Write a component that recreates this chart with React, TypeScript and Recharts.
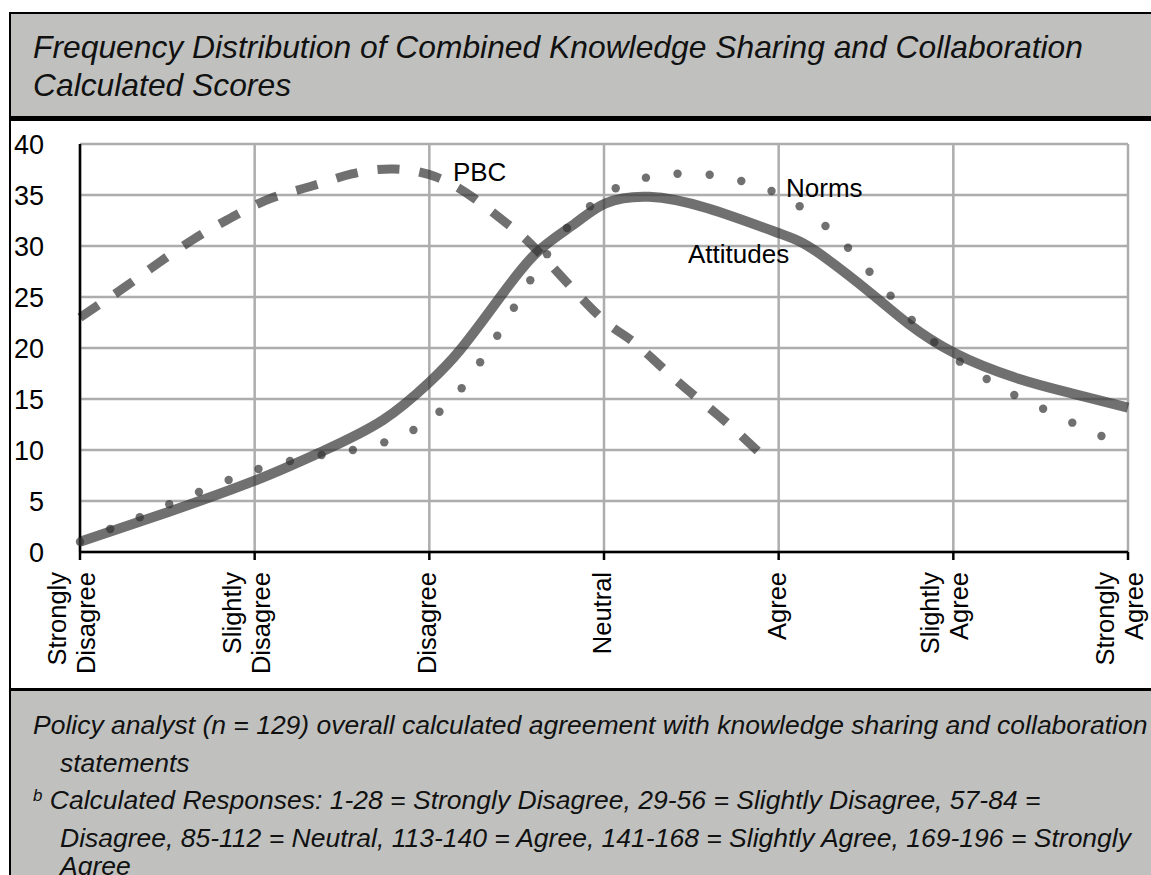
import React from 'react';
import { LineChart, Line, XAxis, YAxis, CartesianGrid, ReferenceDot } from 'recharts';

// response categories along the x axis (positions 0..6)
const CATEGORIES = [
  'Strongly Disagree',
  'Slightly Disagree',
  'Disagree',
  'Neutral',
  'Agree',
  'Slightly Agree',
  'Strongly Agree',
];
const CATEGORY_TICKS = [0, 1, 2, 3, 4, 5, 6];
const Y_TICKS = [0, 5, 10, 15, 20, 25, 30, 35, 40];

// Attitudes (solid curve)
const ATTITUDES_X = [0, 0.51, 1.01, 1.383, 1.735, 2.004, 2.176, 2.393, 2.61, 2.834, 3.009, 3.258, 3.593, 4.002, 4.218, 4.529, 4.739, 5.009, 5.365, 5.677, 6];
const ATTITUDES_Y = [1.0, 3.95, 7.06, 9.83, 12.94, 16.7, 19.8, 24.7, 29.28, 32.2, 34.19, 34.83, 33.7, 31.25, 29.44, 25.36, 22.42, 19.48, 17.03, 15.56, 14.15];

// Norms (dotted curve)
const NORMS_X = [0, 0.173, 0.342, 0.511, 0.681, 0.851, 1.022, 1.202, 1.383, 1.562, 1.742, 1.909, 2.058, 2.185, 2.291, 2.389, 2.484, 2.578, 2.674, 2.788, 2.92, 3.067, 3.24, 3.421, 3.605, 3.786, 3.959, 4.12, 4.268, 4.397, 4.52, 4.641, 4.762, 4.891, 5.037, 5.191, 5.349, 5.514, 5.681, 5.848];
const NORMS_Y = [1.0, 2.25, 3.4, 4.68, 5.88, 7.06, 8.14, 8.92, 9.51, 10.0, 10.75, 11.96, 13.75, 16.05, 18.6, 21.2, 23.95, 26.64, 29.2, 31.76, 33.9, 35.66, 36.7, 37.09, 36.99, 36.37, 35.39, 33.89, 31.96, 29.83, 27.48, 25.13, 22.75, 20.56, 18.66, 16.96, 15.39, 14.05, 12.68, 11.37];

// PBC (dashed curve)
const PBC_X = [0, 0.255, 0.446, 0.65, 0.869, 1.094, 1.328, 1.556, 1.798, 2.036, 2.244, 2.442, 2.628, 2.956, 3.149, 3.332, 3.513, 3.697, 3.922];
const PBC_Y = [23.0, 25.95, 28.3, 30.66, 32.81, 34.68, 35.88, 37.06, 37.55, 36.79, 34.83, 32.23, 29.38, 23.4, 20.85, 18.1, 15.39, 12.77, 9.22];

const SERIES_NAMES = ['PBC', 'Norms', 'Attitudes'];
// where each series name sits, in data units (left edge, baseline)
const LABEL_X = [2.135, 4.042, 3.481];
const LABEL_Y = [36.4, 34.83, 28.3];

const TITLE = [
  'Frequency Distribution of Combined Knowledge Sharing and Collaboration',
  'Calculated Scores',
];

const FONT = "'Liberation Sans', Arial, Helvetica, sans-serif";
const INK = '#333333';
const GRAY = '#c0c1bf';

const toPoints = (xs: number[], ys: number[]) => xs.map((x, i) => ({ x, y: ys[i] }));

const attitudes = toPoints(ATTITUDES_X, ATTITUDES_Y);
const norms = toPoints(NORMS_X, NORMS_Y);
const pbc = toPoints(PBC_X, PBC_Y);

const XTick = (props: any) => {
  const { x, y, payload } = props;
  const words = CATEGORIES[payload.value].split(' ');
  const base = words.length > 1 ? [-14, 15] : [7];
  return (
    <g transform={`translate(${x},${y})`}>
      <text transform="rotate(-90)" textAnchor="end" fontSize={25.5} fill="#000" fontFamily={FONT}>
        {words.map((w, i) => (
          <tspan key={i} x={-10} y={base[i]}>
            {w}
          </tspan>
        ))}
      </text>
    </g>
  );
};

const NormsDot = (p: any) => (
  <circle key={`n${p.index}`} cx={p.cx} cy={p.cy} r={4.2} fill={INK} fillOpacity={0.7} />
);

const footLine = (top: number, left: number, content: React.ReactNode) => (
  <div
    style={{
      position: 'absolute',
      top,
      left,
      fontSize: 26.5,
      lineHeight: '38px',
      fontStyle: 'italic',
      whiteSpace: 'nowrap',
      color: '#111',
    }}
  >
    {content}
  </div>
);

export default function App() {
  return (
    <div
      style={{
        position: 'fixed',
        left: 0,
        top: 0,
        width: 1151,
        height: 875,
        overflow: 'hidden',
        background: '#fff',
        fontFamily: FONT,
      }}
    >
      {/* header band */}
      <div style={{ position: 'absolute', left: 11, top: 14, right: 0, height: 102, background: GRAY }} />
      <div style={{ position: 'absolute', left: 9, top: 116, right: 0, height: 5, background: '#000' }} />
      <div
        style={{
          position: 'absolute',
          left: 33,
          top: 28,
          fontSize: 31.8,
          lineHeight: '38px',
          fontStyle: 'italic',
          whiteSpace: 'nowrap',
          color: '#111',
        }}
      >
        {TITLE[0]}
        <br />
        {TITLE[1]}
      </div>

      {/* footer band */}
      <div style={{ position: 'absolute', left: 9, top: 688, right: 0, height: 3, background: '#000' }} />
      <div style={{ position: 'absolute', left: 11, top: 691, right: 0, bottom: 0, background: GRAY }} />
      {footLine(706, 33, 'Policy analyst (n = 129) overall calculated agreement with knowledge sharing and collaboration')}
      {footLine(743.5, 60, 'statements')}
      {footLine(
        781,
        33,
        <>
          <span style={{ fontSize: 17, position: 'relative', top: -8 }}>b</span> Calculated Responses: 1-28 = Strongly
          Disagree, 29-56 = Slightly Disagree, 57-84 =
        </>
      )}
      {footLine(818.5, 60, 'Disagree, 85-112 = Neutral, 113-140 = Agree, 141-168 = Slightly Agree, 169-196 = Strongly')}
      {footLine(847, 60, 'Agree')}

      {/* outer frame */}
      <div
        style={{
          position: 'absolute',
          left: 9,
          top: 12,
          width: 1200,
          height: 900,
          borderLeft: '2px solid #000',
          borderTop: '2px solid #000',
          boxSizing: 'border-box',
        }}
      />

      <div style={{ position: 'absolute', left: 0, top: 0 }}>
        <LineChart width={1151} height={875} margin={{ top: 144, right: 23, bottom: 223, left: 0 }}>
          <CartesianGrid stroke="#adadad" strokeWidth={2.5} />
          <XAxis
            type="number"
            dataKey="x"
            domain={[0, 6]}
            ticks={CATEGORY_TICKS}
            interval={0}
            height={100}
            tickSize={8}
            axisLine={{ stroke: '#000', strokeWidth: 2.5 }}
            tickLine={{ stroke: '#000', strokeWidth: 2.5 }}
            tick={<XTick />}
          />
          <YAxis
            type="number"
            domain={[0, 40]}
            ticks={Y_TICKS}
            interval={0}
            width={80}
            tickSize={0}
            tickMargin={36}
            tickLine={false}
            axisLine={{ stroke: '#000', strokeWidth: 2.5 }}
            tick={{ fill: '#000', fontSize: 27, fontFamily: FONT }}
          />
          <Line
            data={pbc}
            dataKey="y"
            type="natural"
            stroke={INK}
            strokeOpacity={0.7}
            strokeWidth={9}
            strokeDasharray="22 20"
            dot={false}
            isAnimationActive={false}
          />
          <Line
            data={attitudes}
            dataKey="y"
            type="natural"
            stroke={INK}
            strokeOpacity={0.7}
            strokeWidth={10}
            dot={false}
            isAnimationActive={false}
          />
          <Line
            data={norms}
            dataKey="y"
            type="monotone"
            stroke="none"
            dot={NormsDot}
            isAnimationActive={false}
          />
          {SERIES_NAMES.map((name, i) => (
            <ReferenceDot
              key={name}
              x={LABEL_X[i]}
              y={LABEL_Y[i]}
              r={0}
              shape={(p: any) => (
                <text x={p.cx} y={p.cy} fontSize={26} fill="#000" fontFamily={FONT}>
                  {name}
                </text>
              )}
            />
          ))}
        </LineChart>
      </div>
    </div>
  );
}
